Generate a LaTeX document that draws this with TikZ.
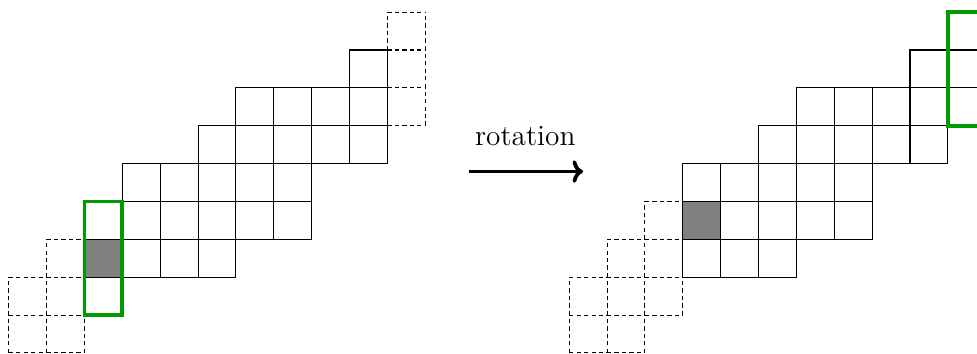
\documentclass[tikz,border=0pt]{standalone}
\usepackage{tikz}
\usetikzlibrary{arrows.meta}
\definecolor{boxgreen}{RGB}{0,155,0}
\begin{document}
\begin{tikzpicture}[x=0.5cm,y=0.5cm,
  cellbox/.style={draw=black,line width=0.4pt},
  dashcell/.style={draw=black,line width=0.4pt,dash pattern=on 1.6pt off 1.2pt},
  graycell/.style={fill=gray},
  greenbox/.style={draw=boxgreen,line width=1.4pt},
  arrowline/.style={-{To[length=4pt,width=8.5pt]},line width=1.4pt}]
\useasboundingbox (-0.23,-0.026) rectangle (25.57,9.32);

% dashed cell: every edge drawn on its own, in one direction, so shared edges coincide
\def\dashedcell#1#2{%
  \draw[dashcell] (#1,#2) -- ++(1,0);
  \draw[dashcell] (#1,#2+1) -- ++(1,0);
  \draw[dashcell] (#1,#2) -- ++(0,1);
  \draw[dashcell] (#1+1,#2) -- ++(0,1);
}

% ---------- left grid ----------
\begin{scope}
  \fill[graycell] (2,2) rectangle (3,3);
  \foreach \c/\r in {10/6,10/7,10/8,1/2,0/1,1/1,0/0,1/0}
    {\dashedcell{\c}{\r}}
  \foreach \c/\r in {2/2,3/2,4/2,5/2,
                     3/3,4/3,5/3,6/3,7/3,
                     3/4,4/4,5/4,6/4,7/4,
                     5/5,6/5,7/5,8/5,9/5,
                     6/6,7/6,8/6,9/6,
                     9/7}
    \draw[cellbox] (\c,\r) rectangle ++(1,1);
  \draw[greenbox] (2,1) rectangle (3,4);
\end{scope}

% ---------- arrow ----------
\coordinate (arrowstart) at (12.15,4.79);
\coordinate (arrowend) at (15.17,4.79);
\draw[arrowline] (arrowstart) -- (arrowend);
\node[anchor=base,inner sep=0pt,font=\fontsize{11}{13}\selectfont] (rotlabel) at (13.64,5.47) {rotation};

% ---------- right grid ----------
\begin{scope}[xshift=7.4cm]
  \fill[graycell] (3,3) rectangle (4,4);
  \foreach \c/\r in {2/3,1/2,2/2,0/1,1/1,2/1,0/0,1/0}
    {\dashedcell{\c}{\r}}
  \foreach \c/\r in {3/2,4/2,5/2,
                     3/3,4/3,5/3,6/3,7/3,
                     3/4,4/4,5/4,6/4,7/4,
                     5/5,6/5,7/5,8/5,9/5,
                     6/6,7/6,8/6,9/6,10/6,
                     9/7,10/7,10/8}
    \draw[cellbox] (\c,\r) rectangle ++(1,1);
  \draw[greenbox] (10,6) rectangle (11,9);
\end{scope}
\end{tikzpicture}
\end{document}
